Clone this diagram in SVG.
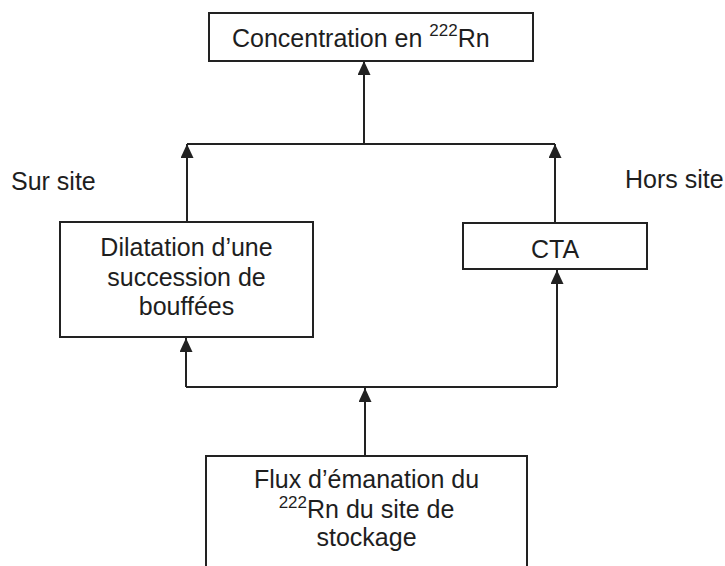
<svg xmlns="http://www.w3.org/2000/svg" width="725" height="566" viewBox="0 0 725 566">
<style>
  .box { fill: #fff; stroke: #222; stroke-width: 2; }
  .t { font-family: "Liberation Sans", Arial, sans-serif; font-size: 25px; fill: #1e1e1e; }
  .c { text-anchor: middle; }
  .sup { font-size: 17px; }
  .wire { fill: none; stroke: #222; stroke-width: 2; }
  .arr { fill: none; stroke: #222; stroke-width: 2; marker-end: url(#ah); }
</style>
<defs>
  <marker id="ah" markerUnits="userSpaceOnUse" markerWidth="14" markerHeight="13" refX="14" refY="6.5" orient="auto">
    <path d="M0,0 L14,6.5 L0,13 z" fill="#222"/>
  </marker>
</defs>
<rect width="725" height="566" fill="#fff"/>
<g id="connectors">
  <path class="arr" d="M365,456 V388"/>
  <path class="wire" d="M186,387 H557"/>
  <path class="arr" d="M186,387 V338"/>
  <path class="arr" d="M557,387 V270"/>
  <path class="arr" d="M187,222 V144"/>
  <path class="arr" d="M555,223 V144"/>
  <path class="wire" d="M187,144 H555"/>
  <path class="arr" d="M364,144 V61"/>
</g>
<g id="concentration">
  <rect class="box" x="209" y="13" width="324" height="48"/>
  <text class="t" x="232" y="47">Concentration en <tspan class="sup" dy="-11">222</tspan><tspan dy="11">Rn</tspan></text>
</g>
<g id="sur-site">
  <text class="t" x="11" y="190">Sur site</text>
</g>
<g id="hors-site">
  <text class="t" x="625" y="188">Hors site</text>
</g>
<g id="dilatation">
  <rect class="box" x="60" y="222" width="253" height="115"/>
  <text class="t c" x="186.5" y="256">Dilatation d’une</text>
  <text class="t c" x="186.5" y="286">succession de</text>
  <text class="t c" x="186.5" y="315">bouffées</text>
</g>
<g id="cta">
  <rect class="box" x="463" y="223" width="184" height="46"/>
  <text class="t c" x="555" y="258">CTA</text>
</g>
<g id="flux">
  <rect class="box" x="206" y="456" width="321" height="130"/>
  <text class="t c" x="366.5" y="488">Flux d’émanation du</text>
  <text class="t c" x="366.5" y="518"><tspan class="sup" dy="-10">222</tspan><tspan dy="10">Rn du site de</tspan></text>
  <text class="t c" x="366.5" y="546">stockage</text>
</g>
</svg>
